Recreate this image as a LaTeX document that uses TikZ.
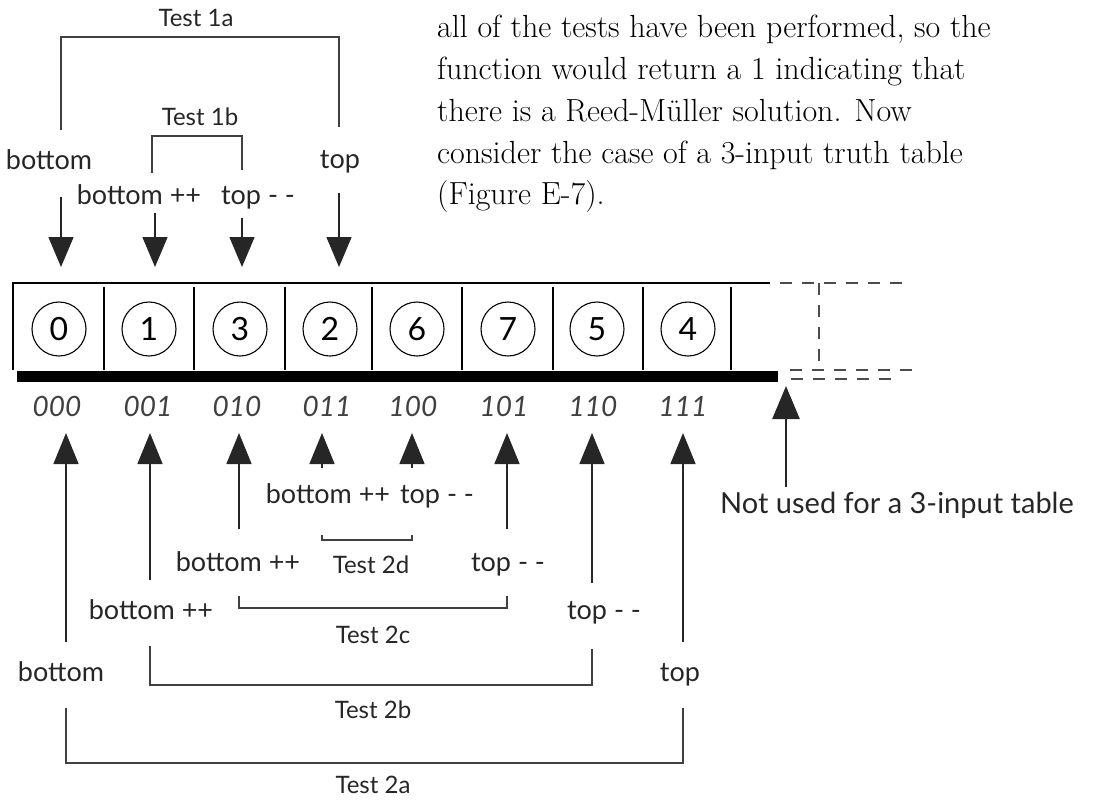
\documentclass[tikz,border=0pt]{standalone}
\usepackage{fontspec}
\newfontfamily\handfont{Lato}
\usetikzlibrary{arrows.meta,calc}

\begin{document}
\begin{tikzpicture}[x=1pt,y=-1pt,line cap=butt,
  lbl/.style={font=\handfont\fontsize{27}{30}\selectfont,text=black!85,inner sep=0pt,text height=17pt,text depth=5pt},
  tst/.style={lbl,font=\handfont\fontsize{24}{27}\selectfont},
  bits/.style={font=\handfont\itshape\fontsize{28}{30}\selectfont,text=black!75,inner sep=0pt},
  cellc/.style={circle,draw,line width=1.1pt,minimum size=54pt,inner sep=0pt,font=\handfont\fontsize{32}{34}\selectfont},
  body/.style={anchor=base west,inner sep=0pt,font=\fontsize{32}{36}\selectfont},
  brk/.style={draw=black!75,line width=1.3pt},
  arrdn/.style={draw=black!85,line width=1.5pt,-{Triangle[length=30pt,width=25pt]}},
  arrup/.style={draw=black!85,line width=1.5pt,-{Triangle[length=31pt,width=25pt]}}]
\useasboundingbox (0,0) rectangle (1094,801);

\node[body] (p1) at (437,37) {all of the tests have been performed, so the};
\node[body] (p2) at (437,79) {function would return a 1 indicating that};
\node[body] (p3) at (437,121) {there is a Reed-Müller solution. Now};
\node[body] (p4) at (437,163) {consider the case of a 3-input truth table};
\node[body] (p5) at (437,204) {(Figure E-7).};

\node[tst] (t1a) at (196,20) {Test 1a};
\node[tst] (t1b) at (200,119) {Test 1b};
\node[lbl] (bot) at (49,163) {bottom};
\node[lbl] (top) at (340,162) {top};
\node[lbl] (botpp) at (139,198) {bottom ++};
\node[lbl] (topmm) at (258,198) {top - -};

\coordinate (u0) at (61,267);
\coordinate (u1) at (155,267);
\coordinate (u2) at (242,267);
\coordinate (u3) at (339,267);
\draw[arrdn,shorten <=34pt] (bot -| u0) -- (u0);
\draw[arrdn,shorten <=15pt] (botpp -| u1) -- (u1);
\draw[arrdn,shorten <=20pt] (topmm -| u2) -- (u2);
\draw[arrdn,shorten <=31pt] (top -| u3) -- (u3);
\draw[brk] ($(bot -| u0)+(0,-33)$) |- ($(t1a)+(0,17)$) -| ($(top -| u3)+(0,-35)$);
\draw[brk] ($(botpp -| u1)+(-3,-25)$) |- ($(t1b)+(0,17)$) -| ($(topmm -| u2)+(0,-28)$);

\draw[line width=2pt] (13,370) -- (13,283) -- (770,283);
\foreach \x in {104,194,285,372,462,553,643,731}
  \draw[line width=1.8pt] (\x,287) -- (\x,370);
\fill (17,371) rectangle (778,382);
\foreach \n/\x/\d in {0/59/0,1/149/1,2/240/3,3/330/2,4/417/6,5/508/7,6/597/5,7/688/4}
  \node[cellc] (c\n) at (\x,329) {\d};
\foreach \n/\x/\b in {0/57/000,1/148/001,2/237/010,3/327/011,4/413/100,5/504/101,6/593/110,7/683/111}
  \node[bits] (b\n) at (\x,406) {\b};
\draw[black!70,line width=1.2pt,dash pattern=on 12pt off 10pt]
  (780,283) -- (905,283) (819,283) -- (819,365) (790,370) -- (913,370) (791,379) -- (893,379);

\foreach \n/\x in {0/66,1/150,2/239,3/322,4/412,5/507,6/592,7/683}
  \coordinate (v\n) at (\x,433);
\node[lbl] (lb0) at (61,675) {bottom};
\node[lbl] (lb1) at (151,613) {bottom ++};
\node[lbl] (lb2) at (238,565) {bottom ++};
\node[lbl] (lb3) at (328,497) {bottom ++};
\node[lbl] (lt3) at (437,497) {top - -};
\node[lbl] (lt2) at (508,565) {top - -};
\node[lbl] (lt1) at (604,613) {top - -};
\node[lbl] (lt0) at (680,675) {top};
\node[tst] (t2a) at (373,787) {Test 2a};
\node[tst] (t2b) at (373,712) {Test 2b};
\node[tst] (t2c) at (373,637) {Test 2c};
\node[tst] (t2d) at (371,567) {Test 2d};

\draw[arrup,shorten <=33pt] (lb0 -| v0) -- (v0);
\draw[arrup,shorten <=33pt] (lb1 -| v1) -- (v1);
\draw[arrup,shorten <=36pt] (lb2 -| v2) -- (v2);
\draw[arrup,shorten <=29pt] (lb3 -| v3) -- (v3);
\draw[arrup,shorten <=29pt] (lt3 -| v4) -- (v4);
\draw[arrup,shorten <=36pt] (lt2 -| v5) -- (v5);
\draw[arrup,shorten <=30pt] (lt1 -| v6) -- (v6);
\draw[arrup,shorten <=33pt] (lt0 -| v7) -- (v7);
\draw[brk] ($(lb0 -| v0)+(0,33)$) |- ($(t2a)+(0,-24)$) -| ($(lt0 -| v7)+(0,33)$);
\draw[brk] ($(lb1 -| v1)+(0,33)$) |- ($(t2b)+(0,-27)$) -| ($(lt1 -| v6)+(0,36)$);
\draw[brk] ($(lb2 -| v2)+(0,31)$) |- ($(t2c)+(0,-29)$) -| ($(lt2 -| v5)+(0,31)$);
\draw[brk] ($(lb3 -| v3)+(0,38)$) |- ($(t2d)+(0,-27)$) -| ($(lt3 -| v4)+(0,38)$);

\coordinate (w) at (786,386);
\node[lbl,font=\handfont\fontsize{29}{32}\selectfont] (nu) at (897,507) {Not used for a 3-input table};
\draw[draw=black!85,line width=2.6pt,-{Triangle[length=33pt,width=27pt]},shorten <=20pt] (nu -| w) -- (w);
\end{tikzpicture}
\end{document}
